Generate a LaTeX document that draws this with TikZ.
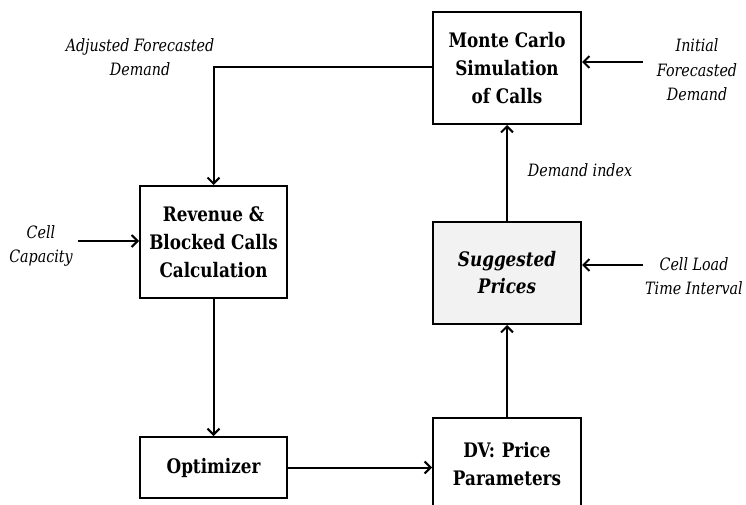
\documentclass[tikz,border=0pt]{standalone}
\usepackage{fontspec}
\setmainfont[FakeStretch=0.84]{DejaVu Serif}
\usetikzlibrary{arrows.meta}
\definecolor{boxgray}{HTML}{F2F2F2}
\tikzset{
  block/.style={draw=black, line width=2pt, align=center, inner sep=0pt,
    font=\bfseries\fontsize{20}{28}\selectfont},
  note/.style={align=center, inner sep=0pt, font=\itshape\fontsize{17}{24.5}\selectfont},
  flow/.style={line width=2pt, -{Straight Barb[length=6pt,width=12pt,line width=2pt]}}
}
\begin{document}
\begin{tikzpicture}[x=1pt,y=-1pt]
\useasboundingbox (0,0) rectangle (746,505);

% processing blocks
\node[block, minimum width=148pt, minimum height=112pt] (mc) at (507,68) {Monte Carlo\\Simulation\\of Calls};
\node[block, minimum width=147pt, minimum height=112pt] (rev) at (213.5,242) {Revenue \&\\Blocked Calls\\Calculation};
\node[block, fill=boxgray, minimum width=148pt, minimum height=102pt,
      font=\bfseries\itshape\fontsize{20}{27}\selectfont] (sp) at (507,273) {Suggested\\Prices};
\node[block, minimum width=147pt, minimum height=61pt] (opt) at (213.5,467.5) {Optimizer};
\node[block, minimum width=148pt, minimum height=92pt] (dv) at (507,464) {DV:\,\,Price\\Parameters};

% external inputs
\node[note] (afd) at (140,57) {Adjusted Forecasted\\Demand};
\node[note] (cap) at (41,246) {Cell\\Capacity};
\node[note] (ifd) at (697,70) {Initial\\Forecasted\\Demand};
\node[note] (clt) at (694,276) {Cell Load\\Time Interval};
\node[note] (di) at (580,170) {Demand index};

\coordinate (capE) at (78,241);
\coordinate (ifdW) at (643,62);
\coordinate (cltW) at (643,265);

% connectors
\draw[flow] (mc.west |- 0,67) -| (rev.north);
\draw[flow] (capE) -- (rev.west |- capE);
\draw[flow] (ifdW) -- (mc.east |- ifdW);
\draw[flow] (cltW) -- (sp.east |- cltW);
\draw[flow] (sp.north) -- (mc.south);
\draw[flow] (dv.north) -- (sp.south);
\draw[flow] (rev.south) -- (opt.north);
\draw[flow] (opt.east) -- (dv.west |- opt.east);
\end{tikzpicture}
\end{document}
